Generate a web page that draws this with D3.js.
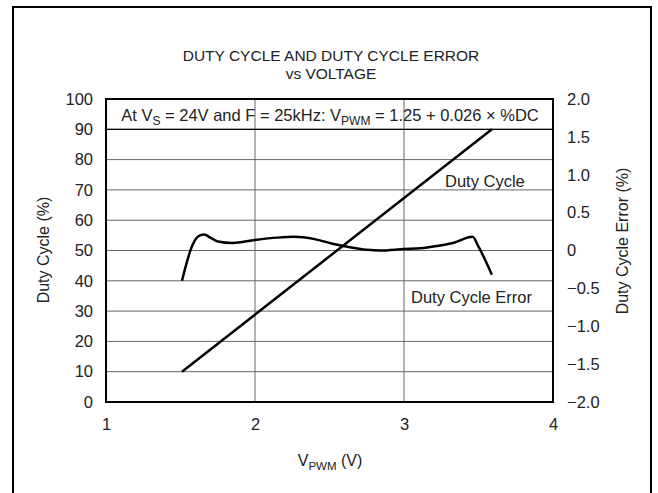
<!DOCTYPE html>
<html>
<head>
<meta charset="utf-8">
<script src="https://cdn.jsdelivr.net/npm/d3@7"></script>
<style>
  body { margin: 0; background: #fff; }
  svg text { font-family: "Liberation Sans", Arial, sans-serif; fill: #222; }
</style>
</head>
<body>
<svg id="chart" width="658" height="493"></svg>
<script>
// data
const dutyVolts = [1.51, 3.59];
const dutyValues = [10, 90];

const errVolts = [1.51, 1.58, 1.63, 1.66, 1.70, 1.75, 1.85, 2.00, 2.15, 2.26, 2.40, 2.52, 2.62, 2.75, 2.84, 3.00, 3.11, 3.22, 3.33, 3.46, 3.50, 3.59];
const errValues = [-0.40, 0.07, 0.20, 0.21, 0.17, 0.12, 0.10, 0.14, 0.17, 0.18, 0.15, 0.09, 0.05, 0.01, 0.00, 0.02, 0.03, 0.06, 0.10, 0.18, 0.05, -0.32];

const xTicks = [1, 2, 3, 4];
const leftTicks = [0, 10, 20, 30, 40, 50, 60, 70, 80, 90, 100];
const rightTicks = [-2, -1.5, -1, -0.5, 0, 0.5, 1, 1.5, 2];
const rightTickLabels = ["\u22122.0", "\u22121.5", "\u22121.0", "\u22120.5", "0", "0.5", "1.0", "1.5", "2.0"];

const svg = d3.select("#chart");
const plot = { left: 106, right: 553, top: 99, bottom: 402 };

const x = d3.scaleLinear().domain([1, 4]).range([plot.left, plot.right]);
const yL = d3.scaleLinear().domain([0, 100]).range([plot.bottom, plot.top]);
const yR = d3.scaleLinear().domain([-2, 2]).range([plot.bottom, plot.top]);

// outer frame (runs off the bottom of the picture)
svg.append("rect")
  .attr("x", 13).attr("y", 7)
  .attr("width", 638).attr("height", 520)
  .attr("fill", "none").attr("stroke", "#000").attr("stroke-width", 2);

// title
svg.append("text").attr("x", 331).attr("y", 61).attr("text-anchor", "middle")
  .attr("font-size", 15.5).text("DUTY CYCLE AND DUTY CYCLE ERROR");
svg.append("text").attr("x", 331).attr("y", 79).attr("text-anchor", "middle")
  .attr("font-size", 15.5).text("vs VOLTAGE");

// grid
const grid = svg.append("g").attr("stroke", "#666").attr("stroke-width", 1);
grid.selectAll("line.h").data(leftTicks.slice(1, -1)).join("line")
  .attr("class", "h")
  .attr("x1", plot.left).attr("x2", plot.right)
  .attr("y1", d => yL(d)).attr("y2", d => yL(d));
grid.selectAll("line.v").data(xTicks.slice(1, -1)).join("line")
  .attr("class", "v")
  .attr("y1", plot.top).attr("y2", plot.bottom)
  .attr("x1", d => x(d)).attr("x2", d => x(d));

// annotation row line sits on the 90% grid line, so just make it black
svg.append("line")
  .attr("x1", plot.left).attr("x2", plot.right)
  .attr("y1", yL(90)).attr("y2", yL(90))
  .attr("stroke", "#000").attr("stroke-width", 1.3);

// axes
const leftAxis = d3.axisLeft(yL).tickValues(leftTicks).tickSize(0).tickPadding(13);
const rightAxis = d3.axisRight(yR).tickValues(rightTicks).tickSize(0).tickPadding(14)
  .tickFormat((d, i) => rightTickLabels[i]);
const bottomAxis = d3.axisBottom(x).tickValues(xTicks).tickSize(0).tickPadding(16)
  .tickFormat(d3.format("d"));

function styleAxis(g) {
  g.select(".domain").remove();
  g.selectAll("text").attr("font-size", 16.5)
    .attr("font-family", "Liberation Sans, Arial, sans-serif").attr("fill", "#222");
}
svg.append("g").attr("transform", `translate(${plot.left},0)`).call(leftAxis).call(styleAxis);
svg.append("g").attr("transform", `translate(${plot.right},0)`).call(rightAxis).call(styleAxis);
svg.append("g").attr("transform", `translate(0,${plot.bottom})`).call(bottomAxis).call(styleAxis);

// plot frame
svg.append("rect")
  .attr("x", plot.left).attr("y", plot.top)
  .attr("width", plot.right - plot.left).attr("height", plot.bottom - plot.top)
  .attr("fill", "none").attr("stroke", "#000").attr("stroke-width", 2);

// axis titles
svg.append("text").attr("transform", "translate(49,250) rotate(-90)")
  .attr("text-anchor", "middle").attr("font-size", 16).text("Duty Cycle (%)");
svg.append("text").attr("transform", "translate(628,241) rotate(-90)")
  .attr("text-anchor", "middle").attr("font-size", 16).text("Duty Cycle Error (%)");

const xt = svg.append("text").attr("x", 330).attr("y", 466)
  .attr("text-anchor", "middle").attr("font-size", 16);
xt.append("tspan").text("V");
xt.append("tspan").attr("dy", 4).attr("font-size", 11.5).text("PWM");
xt.append("tspan").attr("dy", -4).text(" (V)");

// annotation
const ann = svg.append("text").attr("x", 330).attr("y", 121)
  .attr("text-anchor", "middle").attr("font-size", 16.5);
ann.append("tspan").text("At V");
ann.append("tspan").attr("dy", 4).attr("font-size", 12).text("S");
ann.append("tspan").attr("dy", -4).text(" = 24V and F = 25kHz: V");
ann.append("tspan").attr("dy", 4).attr("font-size", 12).text("PWM");
ann.append("tspan").attr("dy", -4).text(" = 1.25 + 0.026 \u00d7 %DC");

// curves
const dutyLine = d3.line().x(d => x(d[0])).y(d => yL(d[1]));
svg.append("path")
  .datum(d3.zip(dutyVolts, dutyValues))
  .attr("d", dutyLine)
  .attr("fill", "none").attr("stroke", "#000").attr("stroke-width", 2.5);

const errLine = d3.line().x(d => x(d[0])).y(d => yR(d[1])).curve(d3.curveMonotoneX);
svg.append("path")
  .datum(d3.zip(errVolts, errValues))
  .attr("d", errLine)
  .attr("fill", "none").attr("stroke", "#000").attr("stroke-width", 2.5)
  .attr("stroke-linejoin", "round");

// series labels
svg.append("text").attr("x", 445).attr("y", 187).attr("font-size", 16.5).text("Duty Cycle");
svg.append("text").attr("x", 411).attr("y", 303).attr("font-size", 16.5).text("Duty Cycle Error");
</script>
</body>
</html>
